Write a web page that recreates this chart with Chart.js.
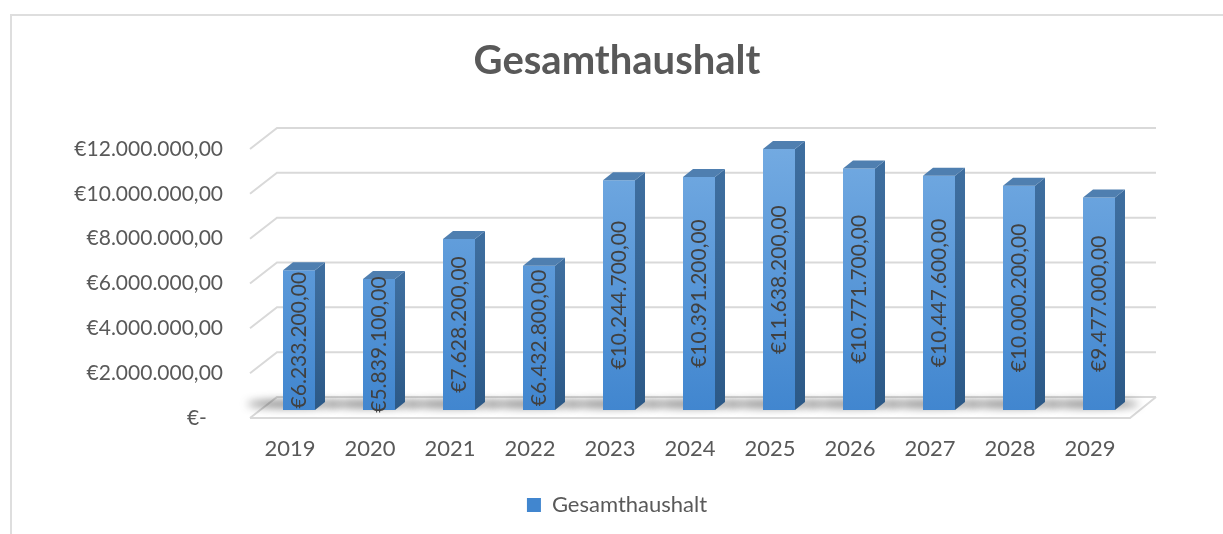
<!DOCTYPE html>
<html>
<head>
<meta charset="utf-8">
<title>Gesamthaushalt</title>
<script src="https://cdn.jsdelivr.net/npm/chart.js@4"></script>
<style>
  html, body { margin: 0; padding: 0; background: #fff; }
  #wrap { position: relative; width: 1223px; height: 534px; overflow: hidden; }
  #frame { position: absolute; left: 10px; top: 14px; width: 1300px; height: 600px;
           border-top: 2px solid #dedede; border-left: 2px solid #dedede; }
  canvas { position: absolute; left: 0; top: 0; }
</style>
</head>
<body>
<div id="wrap">
  <div id="frame"></div>
  <canvas id="haushaltChart" width="1223" height="534"></canvas>
</div>
<script>
// Werte aus dem Diagramm
const jahre = ['2019', '2020', '2021', '2022', '2023', '2024', '2025', '2026', '2027', '2028', '2029'];
const gesamthaushalt = [6233200, 5839100, 7628200, 6432800, 10244700, 10391200, 11638200, 10771700, 10447600, 10000200, 9477000];
const yTicks = [0, 2000000, 4000000, 6000000, 8000000, 10000000, 12000000];

const grau = '#595959';

function euro(v) {
    if (v === 0) return '€-   ';
    const [ganz, dez] = v.toFixed(2).split('.');
    return '€' + ganz.replace(/\B(?=(\d{3})+(?!\d))/g, '.') + ',' + dez;
}

function frontGradient(chart) {
    const a = chart.chartArea;
    if (!a) return '#5b9bd5';
    const g = chart.ctx.createLinearGradient(0, a.top, 0, a.bottom);
    g.addColorStop(0, '#74abe2');
    g.addColorStop(1, '#4186cf');
    return g;
}

// Rückwand-Gitter, Boden und Schatten
const wandPlugin = {
    id: 'wand',
    beforeDatasetsDraw(chart) {
        const { ctx, chartArea: a, scales: { y } } = chart;
        ctx.save();
        ctx.strokeStyle = '#d9d9d9';
        ctx.lineWidth = 2;
        yTicks.forEach(v => {
            const yf = y.getPixelForValue(v);
            ctx.beginPath();
            ctx.moveTo(a.left - 9, yf + 8);
            ctx.lineTo(a.left + 18, yf - 13);
            ctx.lineTo(a.right + 17, yf - 13);
            ctx.stroke();
        });
        const yb = y.getPixelForValue(0);
        ctx.beginPath();
        ctx.moveTo(a.left - 9, yb + 8);
        ctx.lineTo(a.right - 9, yb + 8);
        ctx.lineTo(a.right + 17, yb - 13);
        ctx.stroke();

        // Schatten auf dem Boden
        const meta = chart.getDatasetMeta(0);
        ctx.filter = 'blur(4px)';
        ctx.fillStyle = 'rgba(40,40,40,0.55)';
        meta.data.forEach(bar => {
            const { x, base } = bar.getProps(['x', 'base'], true);
            ctx.beginPath();
            ctx.ellipse(x - 6, base - 6, 46, 4, 0, 0, Math.PI * 2);
            ctx.fill();
        });
        ctx.restore();
    },
    afterDatasetsDraw(chart) {
        const { ctx } = chart;
        const meta = chart.getDatasetMeta(0);
        const dx = 10, dy = -8;
        ctx.save();
        meta.data.forEach((bar, i) => {
            const { x, y, base, width } = bar.getProps(['x', 'y', 'base', 'width'], true);
            const l = x - width / 2, r = x + width / 2;
            const side = ctx.createLinearGradient(0, y, 0, base);
            side.addColorStop(0, '#3e6e9f');
            side.addColorStop(1, '#2c5987');
            ctx.fillStyle = side;
            ctx.beginPath();
            ctx.moveTo(r, y);
            ctx.lineTo(r + dx, y + dy);
            ctx.lineTo(r + dx, base + dy);
            ctx.lineTo(r, base);
            ctx.closePath();
            ctx.fill();

            ctx.fillStyle = '#4f7fb0';
            ctx.beginPath();
            ctx.moveTo(l, y);
            ctx.lineTo(l + dx, y + dy);
            ctx.lineTo(r + dx, y + dy);
            ctx.lineTo(r, y);
            ctx.closePath();
            ctx.fill();

            // Wertbeschriftung
            ctx.save();
            ctx.translate(x, (y + base) / 2);
            ctx.rotate(-Math.PI / 2);
            ctx.font = '21px Lato';
            ctx.fillStyle = '#404040';
            ctx.textAlign = 'center';
            ctx.textBaseline = 'middle';
            ctx.fillText(euro(gesamthaushalt[i]), 0, 0);
            ctx.restore();
        });
        ctx.restore();
    }
};

const ctx = document.getElementById('haushaltChart').getContext('2d');
const haushaltChart = new Chart(ctx, {
    type: 'bar',
    data: {
        labels: jahre,
        datasets: [{
            label: 'Gesamthaushalt',
            data: gesamthaushalt,
            yAxisID: 'y',
            backgroundColor: context => frontGradient(context.chart),
            borderWidth: 0,
            barPercentage: 0.4,
            categoryPercentage: 1.0
        }]
    },
    options: {
        responsive: false,
        animation: false,
        layout: {
            padding: { left: 11, right: 0, top: 0, bottom: 8 }
        },
        scales: {
            x: {
                grid: { display: false, drawTicks: false },
                border: { display: false },
                ticks: {
                    color: grau,
                    font: { family: 'Lato', size: 22 },
                    padding: 26,
                    labelOffset: -9
                },
                afterFit(scale) { scale.height = 74; }
            },
            y: {
                min: 0,
                max: 12000000,
                grid: { display: false, drawTicks: false },
                border: { display: false },
                afterBuildTicks(scale) {
                    scale.ticks = yTicks.map(v => ({ value: v }));
                },
                ticks: {
                    color: grau,
                    font: { family: 'Lato', size: 21 },
                    padding: 36,
                    labelOffset: 8,
                    callback: v => euro(v)
                },
                afterFit(scale) { scale.width = 248; }
            },
            rechts: {
                type: 'linear',
                position: 'right',
                grid: { display: false, drawTicks: false },
                border: { display: false },
                ticks: { display: false },
                afterFit(scale) { scale.width = 84; }
            }
        },
        plugins: {
            title: {
                display: true,
                text: 'Gesamthaushalt',
                color: grau,
                font: { family: 'Lato', size: 40, weight: 'bold' },
                padding: { top: 37, bottom: 56 }
            },
            legend: {
                position: 'bottom',
                labels: {
                    color: grau,
                    font: { family: 'Lato', size: 22 },
                    boxWidth: 14,
                    boxHeight: 14,
                    padding: 10
                }
            },
            tooltip: { enabled: false }
        }
    },
    plugins: [wandPlugin]
});
</script>
</body>
</html>
